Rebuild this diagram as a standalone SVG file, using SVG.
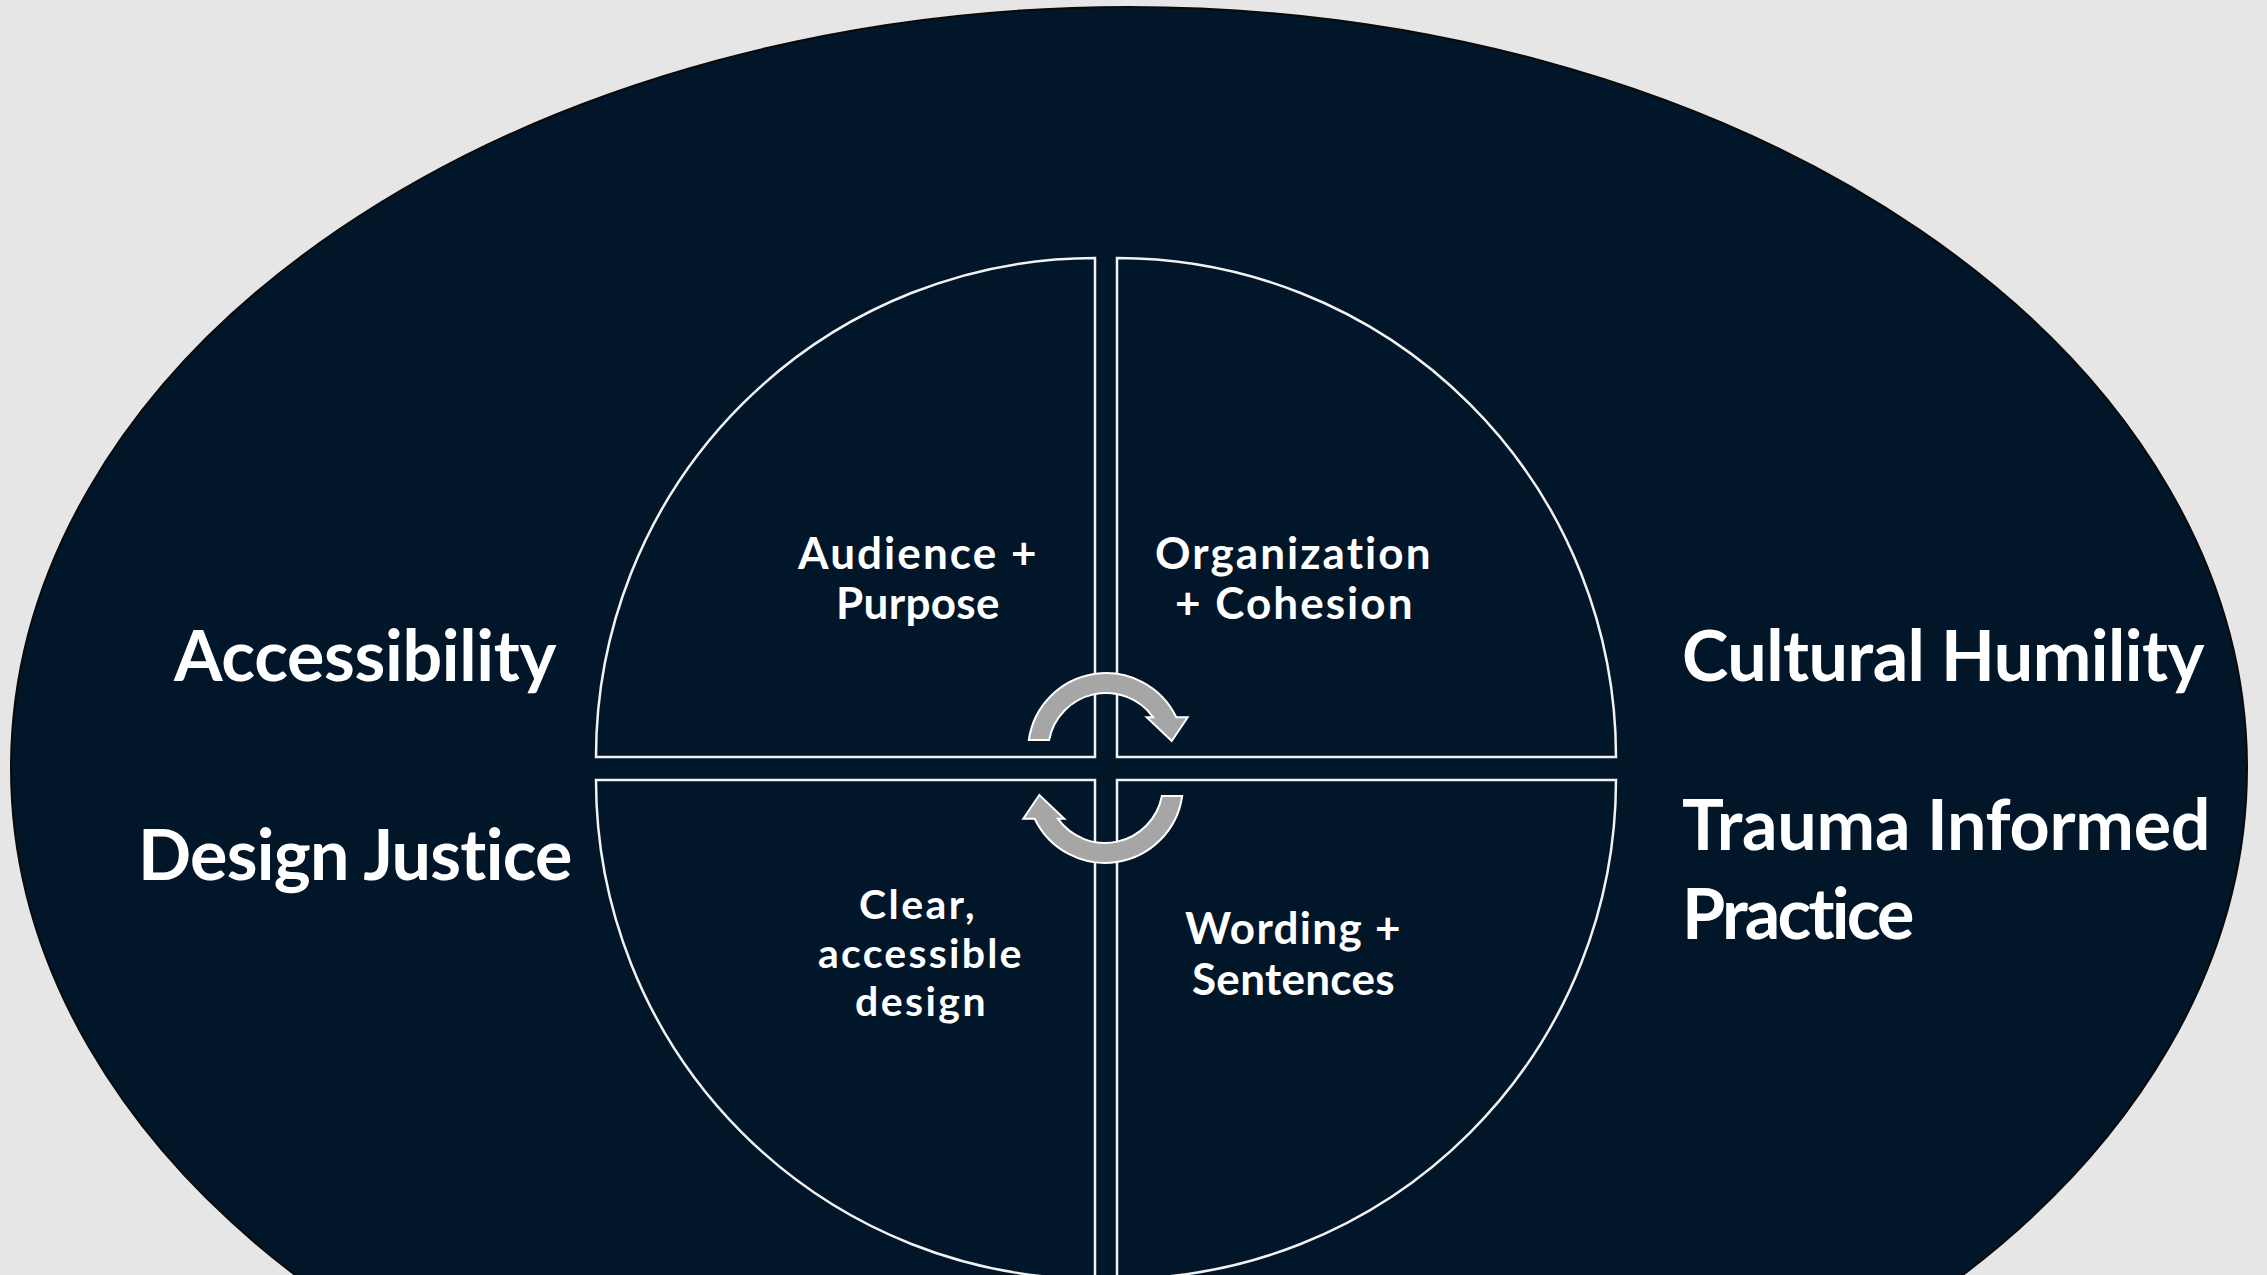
<svg xmlns="http://www.w3.org/2000/svg" xmlns:xlink="http://www.w3.org/1999/xlink" width="2267" height="1275" viewBox="0 0 2267 1275">
  <style>
    text { font-variant-ligatures: none; font-feature-settings: "liga" 0, "clig" 0, "dlig" 0; letter-spacing: 0.5px; }
    .outer-label { font-family: "Lato", "Open Sans", "Liberation Sans", sans-serif; font-weight: 700; font-size: 70px; fill: #ffffff; }
    .quad-label { font-family: "Lato", "Open Sans", "Liberation Sans", sans-serif; font-weight: 700; font-size: 44px; fill: #ffffff; }
    .quad-label-sm { font-family: "Lato", "Open Sans", "Liberation Sans", sans-serif; font-weight: 700; font-size: 41px; fill: #ffffff; }
    .quadrant { fill: #011629; stroke: #f2f2f2; stroke-width: 2.5; }
    .cycle-arrow { fill: #a6a6a6; stroke: #ffffff; stroke-width: 2; stroke-linejoin: miter; }
  </style>
  <defs>
    <!-- curved arrow sweeping clockwise over the top, head pointing down-right -->
    <path id="curved-arrow" d="M 1028.8 740 A 78 78 0 0 1 1176.3 717.3 L 1187.7 717.3 L 1171.7 741 L 1146.7 717.3 L 1153.2 717.3 A 58 58 0 0 0 1049.1 740 Z"/>
  </defs>

  <!-- page background -->
  <rect x="0" y="0" width="2267" height="1275" fill="#e7e6e6"/>

  <!-- outer frame: large navy ellipse -->
  <g id="outer-ellipse">
    <ellipse cx="1129" cy="768" rx="1118" ry="761" fill="#011629" stroke="#0a0a0a" stroke-width="2"/>
  </g>

  <!-- outer themes -->
  <g id="node-accessibility">
    <text class="outer-label" x="174" y="681" textLength="383" lengthAdjust="spacing">Accessibility</text>
  </g>
  <g id="node-design-justice">
    <text class="outer-label" x="138" y="880" textLength="435" lengthAdjust="spacing">Design Justice</text>
  </g>
  <g id="node-cultural-humility">
    <text class="outer-label" x="1682" y="681" textLength="523" lengthAdjust="spacing">Cultural Humility</text>
  </g>
  <g id="node-trauma-informed">
    <text class="outer-label" x="1682" y="850" textLength="529" lengthAdjust="spacing">Trauma Informed</text>
    <text class="outer-label" x="1682" y="939" textLength="233" lengthAdjust="spacing">Practice</text>
  </g>

  <!-- four quadrants of the inner circle -->
  <g id="node-audience-purpose">
    <path class="quadrant" d="M 1095 757 L 596 757 A 499 499 0 0 1 1095 258 Z"/>
    <text class="quad-label" x="798" y="569" textLength="239" lengthAdjust="spacing">Audience +</text>
    <text class="quad-label" x="836" y="619" textLength="164" lengthAdjust="spacing">Purpose</text>
  </g>
  <g id="node-organization-cohesion">
    <path class="quadrant" d="M 1117 757 L 1117 258 A 499 499 0 0 1 1616 757 Z"/>
    <text class="quad-label" x="1155" y="569" textLength="276" lengthAdjust="spacing">Organization</text>
    <text class="quad-label" x="1175" y="619" textLength="238" lengthAdjust="spacing">+ Cohesion</text>
  </g>
  <g id="node-clear-design">
    <path class="quadrant" d="M 1095 780 L 1095 1279 A 499 499 0 0 1 596 780 Z"/>
    <text class="quad-label-sm" x="859" y="919" textLength="116" lengthAdjust="spacing">Clear,</text>
    <text class="quad-label-sm" x="818" y="968" textLength="204" lengthAdjust="spacing">accessible</text>
    <text class="quad-label-sm" x="855" y="1016" textLength="131" lengthAdjust="spacing">design</text>
  </g>
  <g id="node-wording-sentences">
    <path class="quadrant" d="M 1117 780 L 1616 780 A 499 499 0 0 1 1117 1279 Z"/>
    <text class="quad-label" x="1185" y="944" textLength="216" lengthAdjust="spacing">Wording +</text>
    <text class="quad-label" x="1192" y="995" textLength="203" lengthAdjust="spacing">Sentences</text>
  </g>

  <!-- cycle arrows in the centre -->
  <g id="connectors">
    <use xlink:href="#curved-arrow" href="#curved-arrow" class="cycle-arrow"/>
    <use xlink:href="#curved-arrow" href="#curved-arrow" class="cycle-arrow" transform="rotate(180 1105.5 768)"/>
  </g>
</svg>
